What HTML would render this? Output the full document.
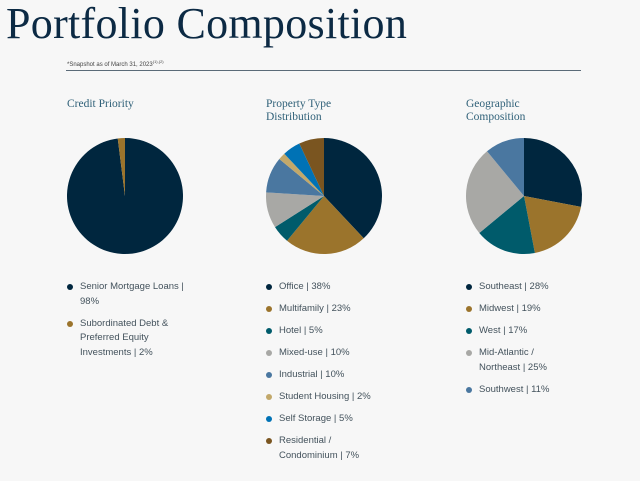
<!DOCTYPE html>
<html><head><meta charset="utf-8">
<style>
body{margin:0;background:#f7f7f7;width:640px;height:481px;overflow:hidden;font-family:"Liberation Sans",sans-serif;position:relative}
h1{position:absolute;left:6px;top:-2px;margin:0;font-family:"Liberation Serif",serif;font-weight:normal;font-size:44px;color:#0c2a44;letter-spacing:0.3px}
.snap{position:absolute;left:67px;top:59px;font-size:6px;color:#444}
.rule{position:absolute;left:66px;top:70px;width:515px;height:1px;background:#5b6b78}
.ttl{position:absolute;top:98px;font-family:"Liberation Serif",serif;font-size:11.5px;line-height:13px;color:#2f6078}
.leg{position:absolute;top:280px;width:130px;font-size:9.5px;color:#43525c;line-height:14.5px}
.item{position:relative;padding-left:13px;margin-bottom:7.5px}
.item i{position:absolute;left:0;top:4px;width:6px;height:6px;border-radius:50%}
svg{position:absolute;left:0;top:0}
</style></head><body>
<h1>Portfolio Composition</h1>
<div class="snap">*Snapshot as of March 31, 2023<sup style="font-size:4px">(1),(2)</sup></div>
<div class="rule"></div>
<div class="ttl" style="left:67px">Credit Priority</div>
<div class="ttl" style="left:266px">Property Type<br>Distribution</div>
<div class="ttl" style="left:466px">Geographic<br>Composition</div>
<svg id="pies" width="640" height="481"></svg>
<div class="leg" id="leg0" style="left:67px"></div>
<div class="leg" id="leg1" style="left:266px"></div>
<div class="leg" id="leg2" style="left:466px"></div>
<script>
const creditLabels=["Senior Mortgage Loans | 98%","Subordinated Debt & Preferred Equity Investments | 2%"];
const creditValues=[98,2];
const propLabels=["Office | 38%","Multifamily | 23%","Hotel | 5%","Mixed-use | 10%","Industrial | 10%","Student Housing | 2%","Self Storage | 5%","Residential / Condominium | 7%"];
const propValues=[38,23,5,10,10,2,5,7];
const geoLabels=["Southeast | 28%","Midwest | 19%","West | 17%","Mid-Atlantic / Northeast | 25%","Southwest | 11%"];
const geoValues=[28,19,17,25,11];
const creditColors=["#00263e","#9b742c"];
const propColors=["#00263e","#9b742c","#005b6b","#a8a8a5","#4a77a0","#c2a86a","#0072b5","#7a5520"];
const geoColors=["#00263e","#9b742c","#005b6b","#a8a8a5","#4a77a0"];
const NS="http://www.w3.org/2000/svg";
const svg=document.getElementById('pies');
function pie(cx,cy,r,vals,cols,name){
  const tot=vals.reduce((a,b)=>a+b,0);let a0=-Math.PI/2;
  vals.forEach((v,i)=>{
    const a1=a0+v/tot*2*Math.PI;
    const p=document.createElementNS(NS,'path');
    const x0=cx+r*Math.cos(a0),y0=cy+r*Math.sin(a0),x1=cx+r*Math.cos(a1),y1=cy+r*Math.sin(a1);
    p.setAttribute('d',`M${cx},${cy}L${x0},${y0}A${r},${r} 0 ${a1-a0>Math.PI?1:0} 1 ${x1},${y1}Z`);
    p.setAttribute('fill',cols[i]);
    
    
    svg.appendChild(p);a0=a1;
  });
}
pie(125,196,58,creditValues,creditColors,'credit');
pie(324,196,58,propValues,propColors,'property');
pie(524,196,58,geoValues,geoColors,'geo');
function leg(id,labels,cols,w){
  const el=document.getElementById(id);el.style.width=w+'px';
  labels.forEach((t,i)=>{
    const d=document.createElement('div');d.className='item';
    
    
    const b=document.createElement('i');b.style.background=cols[i];d.appendChild(b);
    d.appendChild(document.createTextNode(t));el.appendChild(d);
  });
}
leg('leg0',creditLabels,creditColors,125);
leg('leg1',propLabels,propColors,125);
leg('leg2',geoLabels,geoColors,110);
</script>
</body></html>
